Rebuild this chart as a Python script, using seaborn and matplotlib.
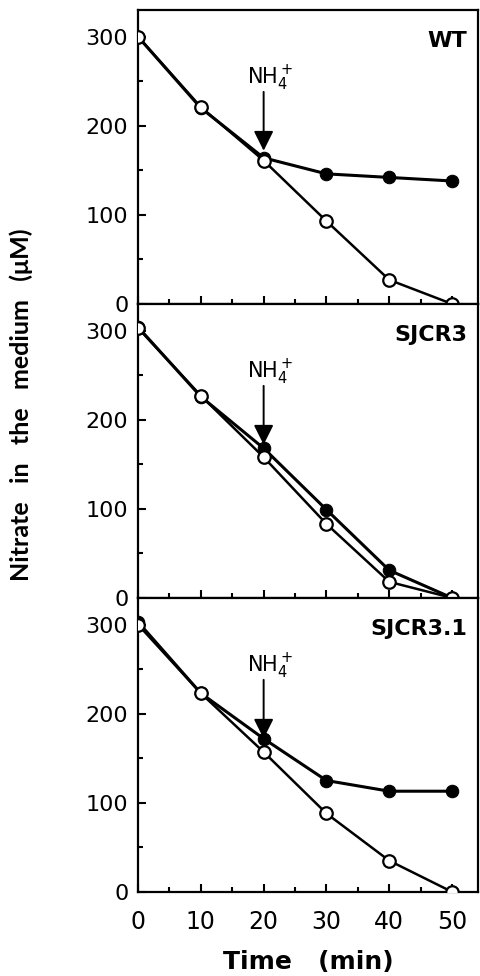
import matplotlib
matplotlib.use("Agg")
import matplotlib.pyplot as plt
import seaborn as sns
import pandas as pd

sns.set_style("ticks")
plt.rcParams["font.family"] = ["DejaVu Sans"]
plt.rcParams["text.color"] = "black"

time = [0, 10, 20, 30, 40, 50]
strains = ["WT", "SJCR3", "SJCR3.1"]
# filled circles (NH4+ added at 20 min) and open circles (control)
nh4 = {
    "WT": [300, 220, 164, 146, 142, 138],
    "SJCR3": [304, 226, 168, 99, 31, 0],
    "SJCR3.1": [303, 223, 172, 125, 113, 113],
}
control = {
    "WT": [300, 221, 161, 93, 27, 0],
    "SJCR3": [303, 227, 158, 83, 18, 0],
    "SJCR3.1": [300, 223, 157, 88, 35, 0],
}

fig = plt.figure(figsize=(4.8, 9.76), dpi=100)
left, width, h = 0.2875, 0.708, 0.3012
bottoms = [0.6886, 0.3874, 0.0862]

for i, s in enumerate(strains):
    ax = fig.add_axes([left, bottoms[i], width, h])
    df = pd.DataFrame({"t": time, "nh4": nh4[s], "ctrl": control[s]})
    sns.lineplot(data=df, x="t", y="nh4", ax=ax, color="black", lw=2.2,
                 marker="o", markersize=9, markerfacecolor="black",
                 markeredgecolor="black", zorder=3)
    sns.lineplot(data=df, x="t", y="ctrl", ax=ax, color="black", lw=1.8,
                 marker="o", markersize=9, markerfacecolor="white",
                 markeredgecolor="black", markeredgewidth=1.6, zorder=4)
    ax.set_xlim(0, 54.1)
    ax.set_ylim(0, 330)
    ax.set_xticks(time)
    ax.set_xticks([5, 15, 25, 35, 45], minor=True)
    ax.set_yticks([0, 100, 200, 300])
    ax.set_yticks([50, 150, 250], minor=True)
    ax.tick_params(which="both", direction="in", width=1.5, colors="black")
    ax.tick_params(which="major", length=6)
    ax.tick_params(which="minor", length=3.5)
    ax.tick_params(axis="y", labelsize=16, pad=7)
    ax.tick_params(axis="x", labelsize=17, pad=13)
    if i < 2:
        ax.set_xticklabels([])
    for sp in ax.spines.values():
        sp.set_linewidth(1.6)
        sp.set_color("black")
    ax.set_xlabel("")
    ax.set_ylabel("")
    ax.text(52.4, 295, s, ha="right", va="center", fontsize=16,
            fontweight="bold", color="black")
    ax.annotate("", xy=(20, 172), xytext=(20, 238),
                arrowprops=dict(arrowstyle="-|>,head_length=0.6,head_width=0.3",
                                mutation_scale=20, lw=1.4, color="black",
                                shrinkA=0, shrinkB=0))
    ax.text(21, 253, r"NH$_4^+$", ha="center", va="center", fontsize=15,
            color="black")

fig.text(0.642, 0.0143, "Time   (min)", ha="center", va="center",
         fontsize=18, fontweight="bold", color="black")
fig.text(0.045, 0.585, "Nitrate   in   the   medium   (μM)", rotation=90,
         ha="center", va="center", fontsize=18, fontweight="bold",
         family="Lato", color="black")

fig.savefig("out.png", dpi=100)
